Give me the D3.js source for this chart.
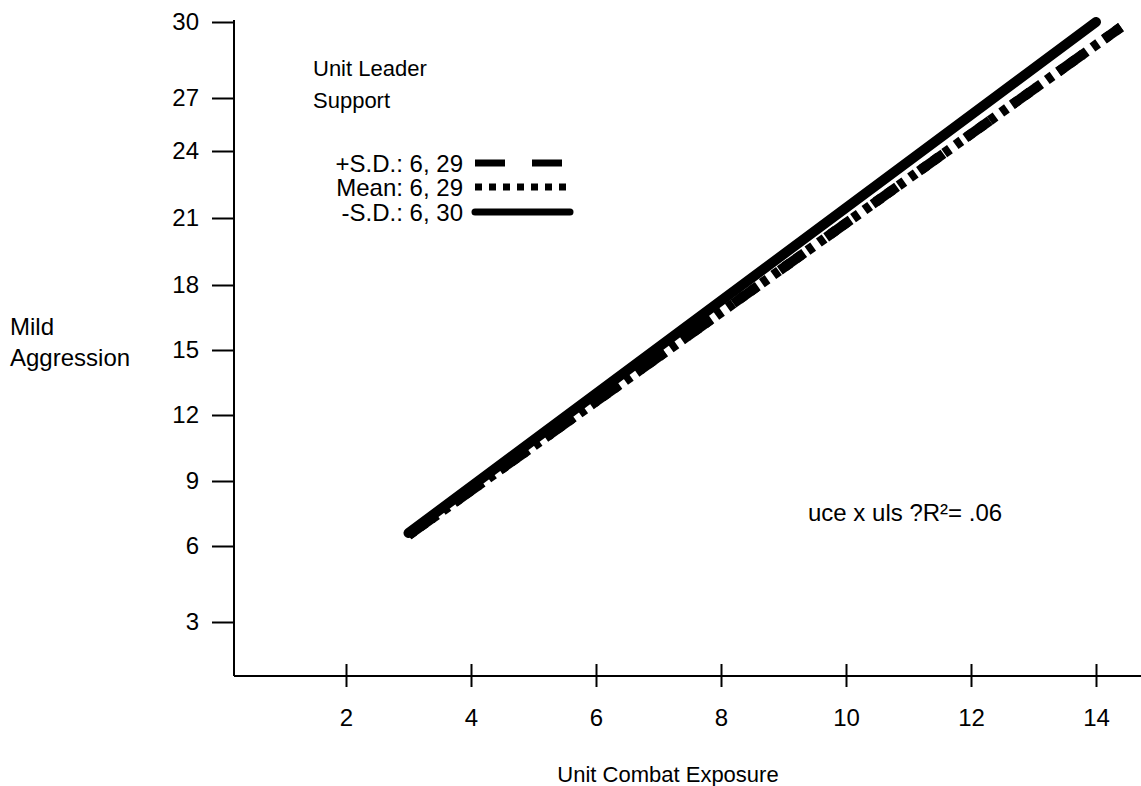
<!DOCTYPE html>
<html>
<head>
<meta charset="utf-8">
<script src="https://cdn.jsdelivr.net/npm/d3@7"></script>
<style>
  body { margin: 0; background: #fff; }
  text { font-family: "Liberation Sans", Arial, sans-serif; fill: #000; font-size: 24px; }
</style>
</head>
<body>
<div id="chart"></div>
<script>
// data
var xTicks = [2, 4, 6, 8, 10, 12, 14];
var yTicks = [3, 6, 9, 12, 15, 18, 21, 24, 27, 30];
var seriesNames = ["+S.D.", "Mean", "-S.D."];
var seriesLabels = ["+S.D.: 6, 29", "Mean: 6, 29", "-S.D.: 6, 30"];
var seriesX = [[3, 14.4], [3, 14.4], [3, 14]];
var seriesY = [[6.5, 29.8], [6.5, 29.8], [6.6, 30]];

var width = 1141, height = 786;
var svg = d3.select("#chart").append("svg")
  .attr("width", width).attr("height", height);

// scales
var xScale = d3.scaleLinear().domain([0, 14]).range([221, 1096]);
// tick spacing in the original is not even, so a piecewise scale
var yScale = d3.scaleLinear()
  .domain(yTicks)
  .range([622, 546, 481, 415, 350, 285, 218, 151, 98, 22]);

var axisX0 = 234, axisY0 = 676;

// y axis
svg.append("line")
  .attr("x1", axisX0).attr("x2", axisX0)
  .attr("y1", 20).attr("y2", axisY0)
  .attr("stroke", "#000").attr("stroke-width", 2);
var yAxisG = svg.append("g").attr("transform", "translate(" + axisX0 + ",0)");
yAxisG.call(d3.axisLeft(yScale).tickValues(yTicks).tickSize(22).tickPadding(13));
yAxisG.select(".domain").remove();
yAxisG.selectAll(".tick line").attr("stroke-width", 2);
yAxisG.selectAll(".tick text").style("font-size", "24px").style("font-family", "Liberation Sans, Arial, sans-serif");

// x axis
svg.append("line")
  .attr("x1", axisX0).attr("x2", width)
  .attr("y1", axisY0).attr("y2", axisY0)
  .attr("stroke", "#000").attr("stroke-width", 2);
var xAxisG = svg.append("g").attr("transform", "translate(0," + axisY0 + ")");
xAxisG.call(d3.axisBottom(xScale).tickValues(xTicks).tickSize(11).tickPadding(22));
xAxisG.select(".domain").remove();
xAxisG.selectAll(".tick line").attr("y1", -12).attr("stroke-width", 2);
xAxisG.selectAll(".tick text").style("font-size", "24px").style("font-family", "Liberation Sans, Arial, sans-serif");

// lines
var dashes = ["30,27", "7,7", null];
var line = d3.line().x(d => xScale(d[0])).y(d => yScale(d[1]));
seriesNames.forEach(function(name, i) {
  var pts = seriesX[i].map((x, j) => [x, seriesY[i][j]]);
  svg.append("path")
    .attr("d", line(pts))
    .attr("fill", "none")
    .attr("stroke", "#000")
    .attr("stroke-width", 10)
    .attr("stroke-linecap", dashes[i] ? "butt" : "round")
    .attr("stroke-dasharray", dashes[i]);
});

// legend
svg.append("text").attr("x", 313).attr("y", 76).style("font-size", "22px").text("Unit Leader");
svg.append("text").attr("x", 313).attr("y", 108).style("font-size", "22px").text("Support");
var legY = [163, 187, 212];
seriesLabels.forEach(function(lab, i) {
  svg.append("text")
    .attr("x", 463).attr("y", legY[i] + 8.5)
    .attr("text-anchor", "end")
    .text(lab);
  svg.append("line")
    .attr("x1", 475).attr("x2", dashes[i] ? 568 : 570)
    .attr("y1", legY[i]).attr("y2", legY[i])
    .attr("stroke", "#000")
    .attr("stroke-width", 7)
    .attr("stroke-linecap", dashes[i] ? "butt" : "round")
    .attr("stroke-dasharray", dashes[i]);
});

// axis titles and note
svg.append("text").attr("x", 10).attr("y", 335).text("Mild");
svg.append("text").attr("x", 10).attr("y", 366).text("Aggression");
svg.append("text").attr("x", 668).attr("y", 782).attr("text-anchor", "middle")
  .style("font-size", "22px").text("Unit Combat Exposure");
svg.append("text").attr("x", 808).attr("y", 521).text("uce x uls ?R²= .06");
</script>
</body>
</html>
